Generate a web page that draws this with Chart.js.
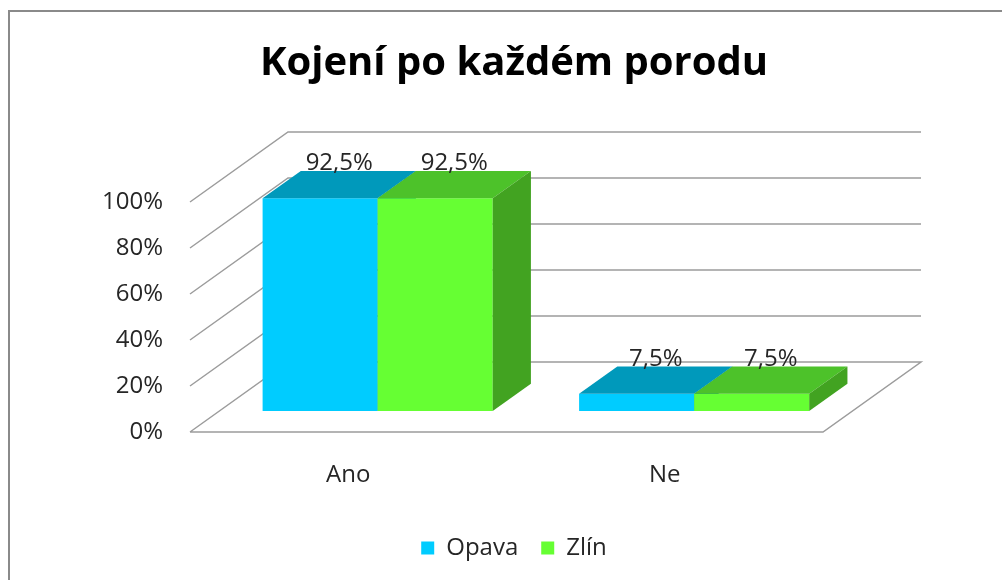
<!DOCTYPE html>
<html>
<head>
<meta charset="utf-8">
<script src="https://cdn.jsdelivr.net/npm/chart.js@4.4.0/dist/chart.umd.min.js"></script>
<style>
    html, body { margin: 0; padding: 0; background: #fff; overflow: hidden; }
    #wrap { position: relative; width: 1002px; height: 600px; }
    #frame {
        position: absolute; left: 8px; top: 10px; width: 1100px; height: 700px;
        border: 2px solid #8a8a8a; pointer-events: none;
    }
</style>
</head>
<body>
<div id="wrap">
    <canvas id="breastfeedingChart"></canvas>
    <div id="frame"></div>
</div>
<script>
// Data
const categories = ['Ano', 'Ne'];
const opavaValues = [92.5, 7.5];
const zlinValues = [92.5, 7.5];
const yTicks = [0, 20, 40, 60, 80, 100];

// Look of the fake 3D box
const DEPTH_X = 98;
const DEPTH_Y = -70;
const BAR_FRONT = 0.30;
const BAR_DEPTH = 0.39;
const GRID_COLOR = '#9c9c9c';
const TEXT_COLOR = '#262626';

const faceColors = [
    { front: '#00CCFF', top: '#0099BB', side: '#0088A8' },
    { front: '#66FF33', top: '#4DC22A', side: '#42A321' }
];

function formatPercent(v) {
    return v.toFixed(1).replace('.', ',') + '%';
}

// Draws the walls, the floor and the bars as boxes
const box3dPlugin = {
    id: 'box3d',
    beforeDatasetsDraw(chart) {
        const { ctx, chartArea: area } = chart;
        const y = chart.scales.y;
        ctx.save();

        // gridlines on the left wall and the back wall, plus the floor
        ctx.strokeStyle = GRID_COLOR;
        ctx.lineWidth = 1.5;
        y.ticks.forEach(tick => {
            const py = y.getPixelForValue(tick.value);
            ctx.beginPath();
            ctx.moveTo(area.left, py);
            ctx.lineTo(area.left + DEPTH_X, py + DEPTH_Y);
            ctx.lineTo(area.right + DEPTH_X, py + DEPTH_Y);
            if (tick.value === 0) {
                ctx.lineTo(area.right, py);
                ctx.lineTo(area.left, py);
            }
            ctx.stroke();
        });

        const fx = DEPTH_X * BAR_FRONT, fy = DEPTH_Y * BAR_FRONT;
        const dx = DEPTH_X * BAR_DEPTH, dy = DEPTH_Y * BAR_DEPTH;
        const labels = [];

        chart.data.datasets.forEach((ds, i) => {
            const meta = chart.getDatasetMeta(i);
            const colors = faceColors[i];
            meta.data.forEach((bar, j) => {
                const x0 = bar.x - bar.width / 2 + fx;
                const x1 = x0 + bar.width;
                const yt = bar.y + fy;
                const yb = bar.base + fy;

                ctx.fillStyle = colors.front;
                ctx.fillRect(x0, yt, x1 - x0, yb - yt);

                ctx.fillStyle = colors.top;
                ctx.beginPath();
                ctx.moveTo(x0, yt);
                ctx.lineTo(x1, yt);
                ctx.lineTo(x1 + dx, yt + dy);
                ctx.lineTo(x0 + dx, yt + dy);
                ctx.closePath();
                ctx.fill();

                ctx.fillStyle = colors.side;
                ctx.beginPath();
                ctx.moveTo(x1, yt);
                ctx.lineTo(x1 + dx, yt + dy);
                ctx.lineTo(x1 + dx, yb + dy);
                ctx.lineTo(x1, yb);
                ctx.closePath();
                ctx.fill();

                labels.push({
                    text: formatPercent(ds.data[j]),
                    x: bar.x + fx + dx / 2,
                    y: bar.y + fy + dy / 2 - 21
                });
            });
        });

        // value labels above each box
        ctx.fillStyle = TEXT_COLOR;
        ctx.font = '24px "Open Sans"';
        ctx.textAlign = 'center';
        ctx.textBaseline = 'middle';
        labels.forEach(l => ctx.fillText(l.text, l.x, l.y));

        ctx.restore();
        return false;
    }
};

const canvas = document.getElementById('breastfeedingChart');
new Chart(canvas, {
    type: 'bar',
    data: {
        labels: categories,
        datasets: [
            {
                label: 'Opava',
                data: opavaValues,
                backgroundColor: faceColors[0].front,
                borderWidth: 0,
                categoryPercentage: 0.727,
                barPercentage: 1
            },
            {
                label: 'Zlín',
                data: zlinValues,
                backgroundColor: faceColors[1].front,
                borderWidth: 0,
                categoryPercentage: 0.727,
                barPercentage: 1
            }
        ]
    },
    options: {
        responsive: true,
        maintainAspectRatio: false,
        animation: false,
        layout: { padding: { left: 26, right: 0, top: 0, bottom: 30 } },
        plugins: {
            title: {
                display: true,
                text: 'Kojení po každém porodu',
                color: '#000',
                font: { family: '"Open Sans"', size: 40, weight: 'bold' },
                padding: { top: 40, bottom: 114 }
            },
            legend: {
                position: 'bottom',
                labels: {
                    color: TEXT_COLOR,
                    font: { family: '"Open Sans"', size: 24 },
                    boxWidth: 13,
                    boxHeight: 13,
                    padding: 23
                }
            },
            tooltip: { enabled: false }
        },
        scales: {
            x: {
                grid: { display: false, drawTicks: false },
                border: { display: false },
                ticks: {
                    color: TEXT_COLOR,
                    font: { family: '"Open Sans"', size: 24 },
                    padding: 29
                },
                afterFit: scale => { scale.height = 81; }
            },
            y: {
                min: 0,
                max: 100,
                grid: { display: false, drawTicks: false },
                border: { display: false },
                afterBuildTicks: scale => {
                    scale.ticks = yTicks.map(v => ({ value: v }));
                },
                ticks: {
                    color: TEXT_COLOR,
                    font: { family: '"Open Sans"', size: 24 },
                    padding: 27,
                    callback: v => v + '%'
                },
                afterFit: scale => { scale.width = 164; }
            },
            y2: {
                position: 'right',
                display: true,
                grid: { display: false, drawTicks: false },
                border: { display: false },
                ticks: { display: false },
                afterFit: scale => { scale.width = 179; }
            }
        }
    },
    plugins: [box3dPlugin]
});
</script>
</body>
</html>
